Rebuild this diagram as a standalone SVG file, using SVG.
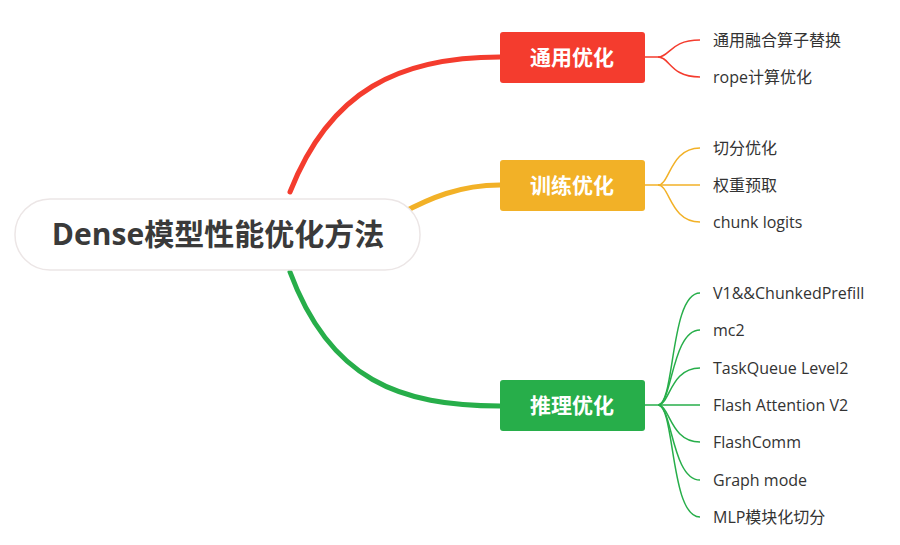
<svg xmlns="http://www.w3.org/2000/svg" width="900" height="545" viewBox="0 0 900 545">
<style>
.c{fill:none;stroke-linecap:round}
.bt{font-family:"Noto Sans CJK SC",sans-serif;font-weight:bold;font-size:21px;fill:#fff;text-anchor:middle}
.lt{font-family:"Open Sans","Noto Sans CJK SC",sans-serif;font-size:16px;fill:#333}
</style>
<rect width="900" height="545" fill="#fff"/>
<g id="connectors">
<path class="c" d="M290 192 C330 90 400 57 500 57" stroke="#f43c2e" stroke-width="5"/>
<path class="c" d="M400 214 C430 198 460 185 500 185" stroke="#f2b127" stroke-width="5"/>
<path class="c" d="M290 272 C330 380 400 406 500 406" stroke="#27ae4a" stroke-width="5"/>
<g stroke="#f43c2e" stroke-width="1.5" fill="none">
<path d="M645 57 H658 C670 57 670 40 700 40"/><path d="M658 57 C670 57 670 77 700 77"/>
</g>
<g stroke="#f2b127" stroke-width="1.5" fill="none">
<path d="M645 185 H658 C670 185 670 148 700 148"/><path d="M658 185 C670 185 670 222 700 222"/><path d="M658 185 H700"/>
</g>
<g stroke="#27ae4a" stroke-width="1.5" fill="none">
<path d="M645 405 H658"/>
<path d="M658 405 C675 405 670 293 700 293"/>
<path d="M658 405 C672 405 672 330 700 330"/>
<path d="M658 405 C670 405 670 368 700 368"/>
<path d="M658 405 H700"/>
<path d="M658 405 C670 405 670 442 700 442"/>
<path d="M658 405 C672 405 672 480 700 480"/>
<path d="M658 405 C675 405 670 517 700 517"/>
</g>
</g>
<g id="root">
<rect x="15" y="199" width="405" height="71" rx="35" fill="#fff" stroke="#ece6e6" stroke-width="1.5"/>
<text x="218" y="245" text-anchor="middle" font-family="Open Sans,'Noto Sans CJK SC',sans-serif" font-weight="bold" font-size="30" fill="#3a3a3a">Dense模型性能优化方法</text>
</g>
<g id="n1"><rect x="500" y="32" width="145" height="51" rx="3" fill="#f43c2e"/><text class="bt" x="572" y="65">通用优化</text></g>
<g id="n2"><rect x="500" y="160" width="145" height="51" rx="3" fill="#f2b127"/><text class="bt" x="572" y="193">训练优化</text></g>
<g id="n3"><rect x="500" y="380" width="145" height="51" rx="3" fill="#27ae4a"/><text class="bt" x="572" y="413">推理优化</text></g>
<g id="leaves">
<text class="lt" x="713" y="46">通用融合算子替换</text>
<text class="lt" x="713" y="83">rope计算优化</text>
<text class="lt" x="713" y="154">切分优化</text>
<text class="lt" x="713" y="191">权重预取</text>
<text class="lt" x="713" y="228">chunk logits</text>
<text class="lt" x="713" y="299">V1&amp;&amp;ChunkedPrefill</text>
<text class="lt" x="713" y="336">mc2</text>
<text class="lt" x="713" y="374">TaskQueue Level2</text>
<text class="lt" x="713" y="411">Flash Attention V2</text>
<text class="lt" x="713" y="448">FlashComm</text>
<text class="lt" x="713" y="486">Graph mode</text>
<text class="lt" x="713" y="523">MLP模块化切分</text>
</g>
</svg>
